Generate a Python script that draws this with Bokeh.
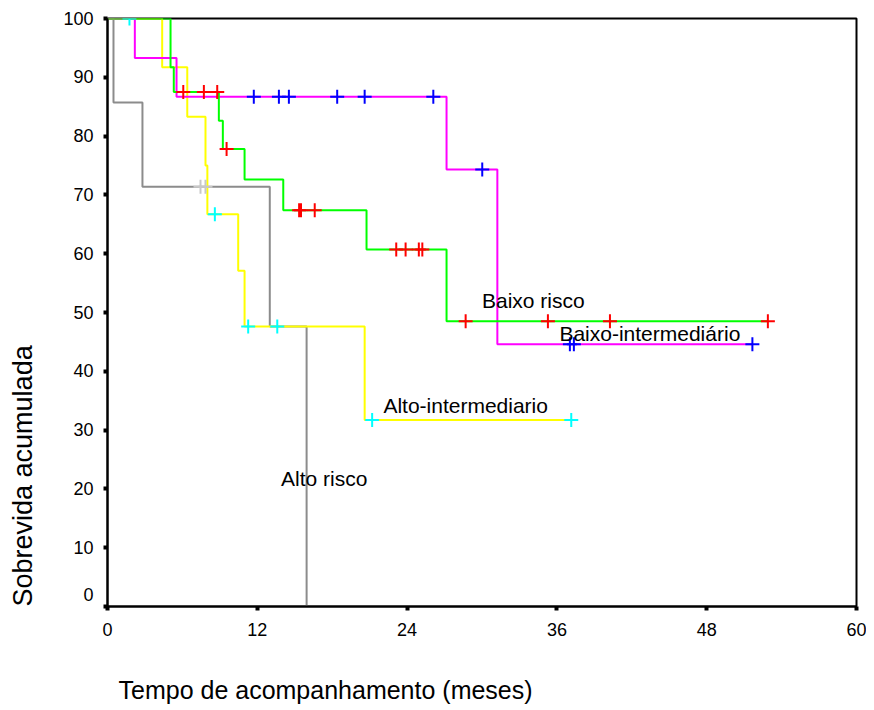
from bokeh.plotting import figure
from bokeh.models import FixedTicker, Label, Range1d, Title
from bokeh.embed import file_html
from bokeh.resources import INLINE

FONT = "Liberation Sans"

# ---- data (months, cumulative survival %) ----
alto_risco_t = [0, 0.48, 2.8, 13.0, 15.95]
alto_risco_s = [100, 85.7, 71.4, 47.6, 0]
alto_risco_cens_t = [7.45, 7.85]
alto_risco_cens_s = [71.4, 71.4]

alto_int_t = [0, 4.38, 6.39, 7.85, 8.0, 10.47, 10.98, 20.6, 37.15]
alto_int_s = [100, 91.7, 83.3, 75.0, 66.7, 57.1, 47.6, 31.7, 31.7]
alto_int_cens_t = [1.76, 8.6, 11.27, 13.6, 21.2, 37.15]
alto_int_cens_s = [100, 66.7, 47.6, 47.6, 31.7, 31.7]

baixo_int_t = [0, 2.19, 5.53, 27.16, 31.23, 51.66]
baixo_int_s = [100, 93.3, 86.7, 74.3, 44.6, 44.6]
baixo_int_cens_t = [11.72, 13.73, 14.53, 18.4, 20.6, 26.1, 30.02, 37.04, 37.36, 51.66]
baixo_int_cens_s = [86.7, 86.7, 86.7, 86.7, 86.7, 86.7, 74.3, 44.6, 44.6, 44.6]

baixo_risco_t = [0, 5.05, 5.31, 8.92, 9.24, 10.98, 14.08, 20.75, 27.16, 52.9]
baixo_risco_s = [100, 91.7, 87.5, 82.6, 77.8, 72.6, 67.4, 60.7, 48.5, 48.5]
baixo_risco_cens_t = [6.07, 7.72, 8.79, 9.54, 15.35, 15.5, 16.6, 23.13, 23.88, 24.94, 25.22,
                      28.69, 35.28, 40.25, 52.9]
baixo_risco_cens_s = [87.5, 87.5, 87.5, 77.8, 67.4, 67.4, 67.4, 60.7, 60.7, 60.7, 60.7,
                      48.5, 48.5, 48.5, 48.5]

x_ticks = [0, 12, 24, 36, 48, 60]
y_ticks = [0, 10, 20, 30, 40, 50, 60, 70, 80, 90, 100]

group_names = ["Baixo risco", "Baixo-intermediário", "Alto-intermediario", "Alto risco"]
group_label_x = [30.0, 36.2, 22.1, 13.9]
group_label_y = [52.1, 46.5, 34.1, 21.8]

x_title = "Tempo de acompanhamento (meses)"
y_title = "Sobrevida acumulada"

p = figure(width=866, height=710, x_range=Range1d(0, 60), y_range=Range1d(0, 100),
           output_backend="svg", toolbar_location=None,
           min_border_left=107, min_border_right=10, min_border_top=18, min_border_bottom=104)

p.background_fill_color = "white"
p.border_fill_color = "white"
p.outline_line_color = "black"
p.outline_line_width = 2
p.xgrid.visible = False
p.ygrid.visible = False

for ax in (p.xaxis[0], p.yaxis[0]):
    ax.axis_line_color = "black"
    ax.axis_line_width = 2
    ax.major_tick_line_color = "black"
    ax.major_tick_line_width = 4
    ax.major_tick_in = 0
    ax.major_tick_out = 4
    ax.minor_tick_line_color = None
    ax.major_label_text_font = FONT
    ax.major_label_text_font_size = "18px"
    ax.major_label_text_color = "black"

p.xaxis[0].ticker = FixedTicker(ticks=x_ticks)
p.yaxis[0].ticker = FixedTicker(ticks=y_ticks)
p.xaxis[0].major_label_standoff = 12
p.yaxis[0].major_label_standoff = 10
# the "0" of the y axis sits raised above its tick, as in the original
p.yaxis[0].major_label_overrides = {0: "0\n "}

# step curves
p.step(alto_risco_t, alto_risco_s, mode="after", line_color="#8c8c8c", line_width=2)
p.step(alto_int_t, alto_int_s, mode="after", line_color="#ffff00", line_width=2)
p.step(baixo_int_t, baixo_int_s, mode="after", line_color="#ff00ff", line_width=2)
p.step(baixo_risco_t, baixo_risco_s, mode="after", line_color="#00ff00", line_width=2)

# censor marks
p.scatter(alto_risco_cens_t, alto_risco_cens_s, marker="cross", size=14, line_width=2, line_color="#c8c8c8")
p.scatter(alto_int_cens_t, alto_int_cens_s, marker="cross", size=14, line_width=2, line_color="#00ffff")
p.scatter(baixo_int_cens_t, baixo_int_cens_s, marker="cross", size=14, line_width=2, line_color="#0000ff")
p.scatter(baixo_risco_cens_t, baixo_risco_cens_s, marker="cross", size=14, line_width=2, line_color="#ff0000")

# group labels
for name, gx, gy in zip(group_names, group_label_x, group_label_y):
    p.add_layout(Label(x=gx, y=gy, text=name, text_font=FONT, text_font_size="21px",
                       text_color="black", text_align="left", text_baseline="alphabetic"))

# spacers that push the axis titles outward
p.add_layout(Title(text=" ", text_font_size="1px", standoff=27), "below")
p.add_layout(Title(text=" ", text_font_size="1px", standoff=12), "left")

# axis titles (left-aligned, as in the original)
p.add_layout(Title(text=x_title, align="left", vertical_align="bottom", offset=11, standoff=10,
                   text_font=FONT, text_font_size="25px", text_font_style="normal",
                   text_color="black"), "below")
p.add_layout(Title(text=y_title, align="left", vertical_align="top", offset=0, standoff=12,
                   text_font=FONT, text_font_size="27px", text_font_style="normal",
                   text_color="black"), "left")

open("out.html", "w").write(file_html(p, INLINE))
